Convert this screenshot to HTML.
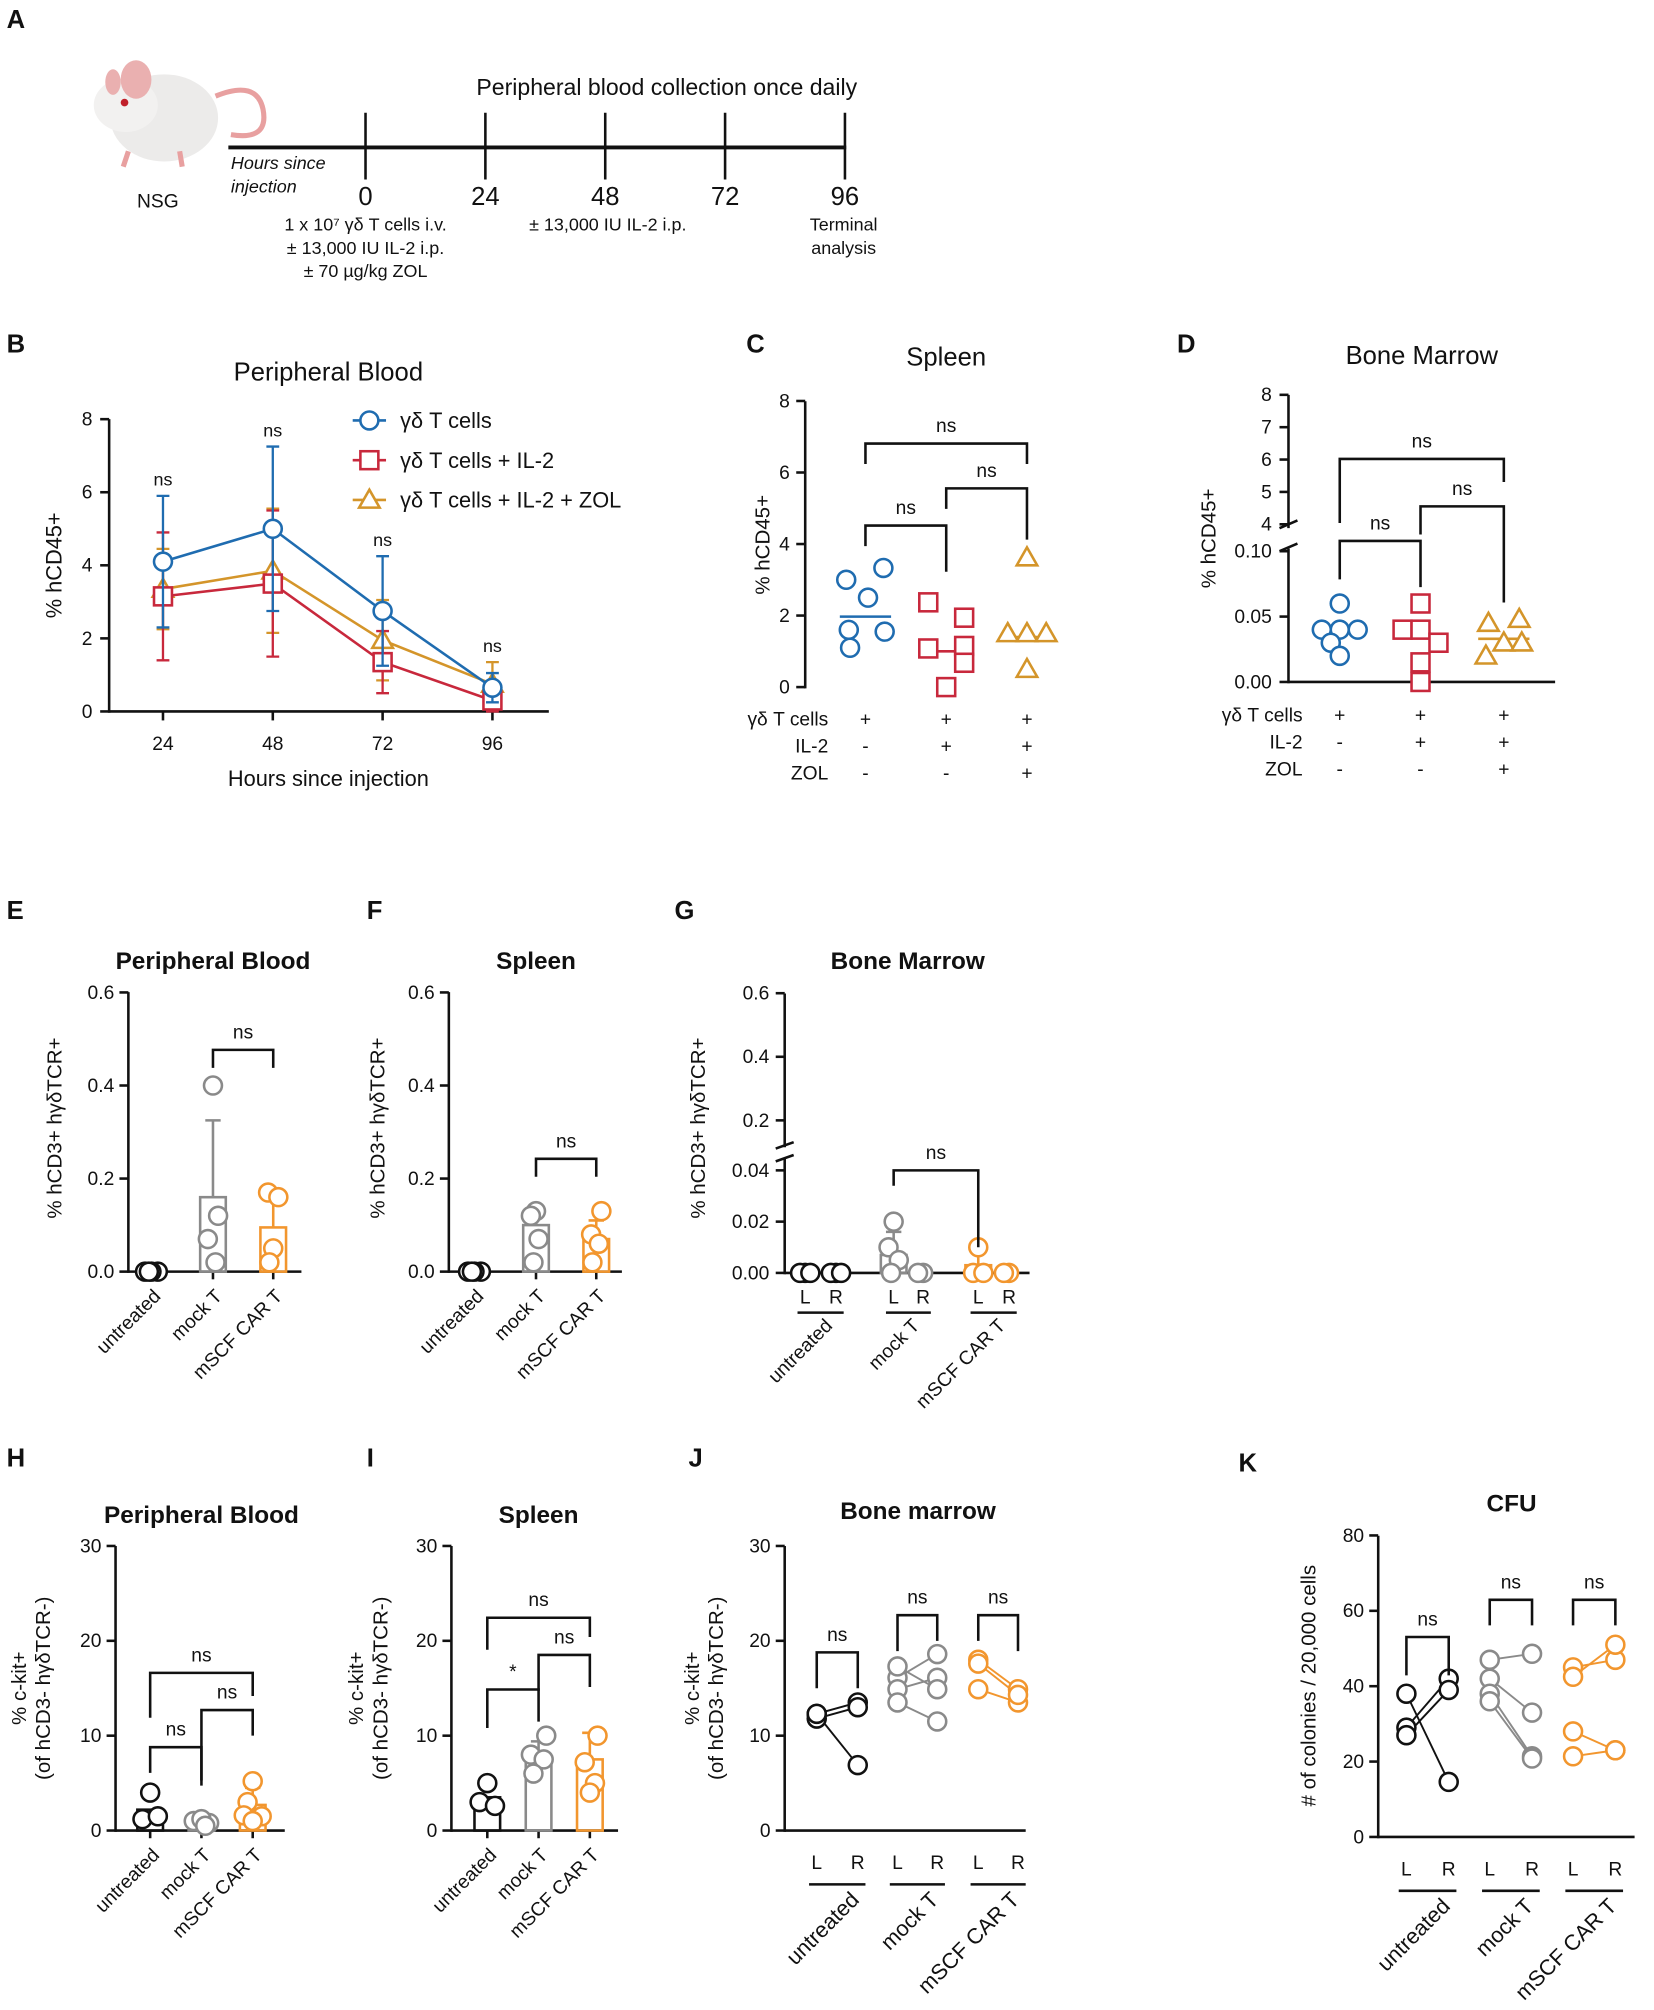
<!DOCTYPE html>
<html><head><meta charset="utf-8"><style>
html,body{margin:0;padding:0;background:#fff}
svg{display:block;font-family:"Liberation Sans",sans-serif}
</style></head><body>
<svg id="fig" xmlns="http://www.w3.org/2000/svg" width="1654" height="2010" viewBox="0 0 1290 1568">
<g id="mouse">
<path d="M168,75 Q200,62 205,85 Q210,110 180,105" fill="none" stroke="#e8a0a0" stroke-width="4"/>
<ellipse cx="128" cy="92" rx="42" ry="34" fill="#ecebea"/>
<ellipse cx="98" cy="82" rx="25" ry="21" fill="#f2f1f0"/>
<ellipse cx="106" cy="62" rx="12" ry="15" fill="#eab0b0"/>
<ellipse cx="88" cy="64" rx="6" ry="10" fill="#eab0b0"/>
<circle cx="97" cy="80" r="3" fill="#c0202a"/>
<path d="M100,118 l-4,12 M140,118 l2,12" stroke="#e8a0a0" stroke-width="4"/>
</g>
</svg>
<script>
const NS='http://www.w3.org/2000/svg';
const svg=document.getElementById('fig');
function mk(tag,attrs,name,parent){const el=document.createElementNS(NS,tag);for(const k in attrs)el.setAttribute(k,attrs[k]);


(parent||svg).appendChild(el);return el;}
function T(x,y,s,name,o){o=o||{};const a={x:x,y:y,'font-size':o.fs||15,'text-anchor':o.a||'middle',fill:o.fill||'#111'};
if(o.w)a['font-weight']=o.w;if(o.st)a['font-style']=o.st;if(o.rot!=null)a.transform='rotate('+o.rot+' '+x+' '+y+')';
const t=mk('text',a,name);t.textContent=s;return t;}
function L(x1,y1,x2,y2,name,c,w){return mk('line',{x1:x1,y1:y1,x2:x2,y2:y2,stroke:c||'#111','stroke-width':w||2},name);}
function P(d,name,c,w,f){return mk('path',{d:d,stroke:c||'#111','stroke-width':w||2,fill:f||'none'},name);}
function marker(shape,x,y,c,r,name){r=r||7;
 if(shape==='o')return mk('circle',{cx:x,cy:y,r:r,fill:'#fff',stroke:c,'stroke-width':2},name);
 if(shape==='s')return mk('rect',{x:x-r,y:y-r,width:2*r,height:2*r,fill:'#fff',stroke:c,'stroke-width':2},name);
 return mk('path',{d:'M'+x+','+(y-r-1)+' L'+(x+r+1)+','+(y+r-1)+' L'+(x-r-1)+','+(y+r-1)+'Z',fill:'#fff',stroke:c,'stroke-width':2},name);}
function bracket(x1,x2,y,lbl,name,leg1,leg2){P('M'+x1+','+(y+(leg1||22))+' V'+y+' H'+x2+' V'+(y+(leg2||22)),name);T((x1+x2)/2,y-9,lbl,name+'-label',{fs:15});}
function letter(x,y,s){T(x,y,s,'panel-label-'+s.toLowerCase(),{fs:20,w:'bold',a:'start'});}

// ---------- Panel A ----------
const aHours=['0','24','48','72','96'];
letter(5,22,'A');
L(178,115,660,115,'timeline-axis','#111',3);
aHours.forEach((h,i)=>{const x=285+i*93.5;L(x,88,x,140,'timeline-tick-'+h);T(x,160,h,'timeline-label-'+h,{fs:20});});
T(520,74,'Peripheral blood collection once daily','timeline-title',{fs:18});
T(180,132,'Hours since','timeline-axis-title-1',{fs:14,st:'italic',a:'start'});
T(180,150,'injection','timeline-axis-title-2',{fs:14,st:'italic',a:'start'});
T(123,162,'NSG','mouse-strain-label',{fs:15});
T(285,180,'1 x 10⁷ γδ T cells i.v.','day0-treatment-1',{fs:14});
T(285,198,'± 13,000 IU IL-2 i.p.','day0-treatment-2',{fs:14});
T(285,216,'± 70 µg/kg ZOL','day0-treatment-3',{fs:14});
T(474,180,'± 13,000 IU IL-2 i.p.','day2-treatment',{fs:14});
T(658,180,'Terminal','terminal-analysis-1',{fs:14});
T(658,198,'analysis','terminal-analysis-2',{fs:14});

// ---------- Panel B ----------
const bHours=[24,48,72,96];
const bTicks=[0,2,4,6,8];
const bBlue=[4.1,5.0,2.75,0.65], bBlueSD=[1.8,2.25,1.5,0.4];
const bRed=[3.15,3.5,1.35,0.3], bRedSD=[1.75,2.0,0.85,0.3];
const bGold=[3.35,3.85,1.95,0.75], bGoldSD=[1.1,1.7,1.1,0.6];
const bSig=['ns','ns','ns','ns'];
const BLUE='#1f6cb0',RED='#c8283c',GOLD='#d4952a';
letter(5,275,'B');
const bx=h=>127+(h-24)*(257/72), by=v=>555-v*28.5;
L(85,555,428,555,'b-x-axis');L(85,327,85,556,'b-y-axis');
bTicks.forEach(t=>{L(78,by(t),85,by(t),'b-y-tick');T(72,by(t)+5,String(t),'b-y-tick-label',{fs:15,a:'end'});});
bHours.forEach((h,i)=>{L(bx(h),555,bx(h),562,'b-x-tick');T(bx(h),585,String(h),'b-x-tick-label',{fs:15});});
[[bGold,bGoldSD,GOLD,'^','gold'],[bRed,bRedSD,RED,'s','red'],[bBlue,bBlueSD,BLUE,'o','blue']].forEach(([v,sd,c,sh,n])=>{
 P(v.map((y,i)=>(i?'L':'M')+bx(bHours[i])+','+by(y)).join(' '),'b-line-'+n,c,2);
 v.forEach((y,i)=>{const x=bx(bHours[i]);P('M'+x+','+by(y-sd[i])+'V'+by(y+sd[i])+'M'+(x-5)+','+by(y+sd[i])+'h10M'+(x-5)+','+by(y-sd[i])+'h10','b-errorbar-'+n,c,1.8);});
 v.forEach((y,i)=>marker(sh,bx(bHours[i]),by(y),c,7,'b-point-'+n));
});
bHours.forEach((h,i)=>{const top=Math.max(bBlue[i]+bBlueSD[i],bRed[i]+bRedSD[i],bGold[i]+bGoldSD[i]);T(bx(h),by(top)-8,bSig[i],'b-sig-label',{fs:14});});
T(256,297,'Peripheral Blood','b-title',{fs:20});
T(256,613,'Hours since injection','b-x-title',{fs:17});
T(48,441,'% hCD45+','b-y-title',{fs:17,rot:-90});
[['γδ T cells',BLUE,'o'],['γδ T cells + IL-2',RED,'s'],['γδ T cells + IL-2 + ZOL',GOLD,'^']].forEach(([s,c,sh],i)=>{const y=328+i*31;
 L(275,y,301,y,'b-legend-line',c,2);marker(sh,288,y,c,7,'b-legend-marker');T(312,y+6,s,'b-legend-entry',{fs:17,a:'start'});});

// ---------- Panel C ----------
const cTicks=[0,2,4,6,8];
const cBlue=[3.33,3.0,2.5,1.6,1.1,1.55], cBlueX=[14,-15,2,-13,-12,15];
const cRed=[2.37,1.94,1.08,1.15,0.0,0.68], cRedX=[-14,14,-14,14,0,14];
const cGold=[3.62,1.5,1.5,1.5,0.5], cGoldX=[0,-15,0,15,0];
const cMeans=[1.97,1.0,1.4];
letter(582,275,'C');
const cy=v=>536-v*27.9, cgx=[675,738,801];
L(628,313,628,537,'c-y-axis');
cTicks.forEach(t=>{L(621,cy(t),628,cy(t),'c-y-tick');T(616,cy(t)+5,String(t),'c-y-tick-label',{fs:15,a:'end'});});
[[cBlue,cBlueX,BLUE,'o'],[cRed,cRedX,RED,'s'],[cGold,cGoldX,GOLD,'^']].forEach(([v,dx,c,sh],g)=>{
 L(cgx[g]-20,cy(cMeans[g]),cgx[g]+20,cy(cMeans[g]),'c-mean-line',c,2);
 v.forEach((y,i)=>marker(sh,cgx[g]+dx[i],cy(y),c,7,'c-point'));});
bracket(675,738,410,'ns','c-bracket-1-2',16,36);bracket(738,801,381,'ns','c-bracket-2-3',16,40);bracket(675,801,346,'ns','c-bracket-1-3',16,16);
T(738,285,'Spleen','c-title',{fs:20});
T(600,425,'% hCD45+','c-y-title',{fs:16,rot:-90});
const rowsC=[['γδ T cells',['+','+','+']],['IL-2',['-','+','+']],['ZOL',['-','-','+']]];
rowsC.forEach(([n,s],r)=>{T(646,566+r*21,n,'c-row-label',{fs:15,a:'end'});s.forEach((c,g)=>T(cgx[g],566+r*21,c,'c-row-sign',{fs:15}));});

// ---------- Panel D ----------
const dTicksLow=[0,0.05,0.10], dTicksHigh=[4,5,6,7,8];
const dBlue=[0.06,0.04,0.04,0.04,0.03,0.02], dBlueX=[0,-14,0,14,-7,0];
const dRed=[0.06,0.04,0.04,0.03,0.015,0.0], dRedX=[0,-14,0,14,0,0];
const dGold=[0.048,0.045,0.03,0.03,0.02], dGoldX=[12,-12,0,14,-14];
const dMeans=[0.038,0.035,0.033];
letter(918,275,'D');
const dy=v=>v<=0.1?532-v*1020:409-(v-4)*25.25, dgx=[1045,1108,1173];
L(1005,308,1005,412,'d-y-axis-upper');L(1005,428,1005,533,'d-y-axis-lower');L(1005,532,1213,532,'d-x-axis');
L(998,412,1012,406,'d-axis-break');L(998,430,1012,424,'d-axis-break');
dTicksHigh.forEach(t=>{L(998,dy(t),1005,dy(t),'d-y-tick');T(992,dy(t)+5,String(t),'d-y-tick-label',{fs:15,a:'end'});});
dTicksLow.forEach(t=>{L(998,dy(t),1005,dy(t),'d-y-tick');T(992,dy(t)+5,t.toFixed(2),'d-y-tick-label',{fs:15,a:'end'});});
[[dBlue,dBlueX,BLUE,'o'],[dRed,dRedX,RED,'s'],[dGold,dGoldX,GOLD,'^']].forEach(([v,dx,c,sh],g)=>{
 L(dgx[g]-20,dy(dMeans[g]),dgx[g]+20,dy(dMeans[g]),'d-mean-line',c,2);
 v.forEach((y,i)=>marker(sh,dgx[g]+dx[i],dy(y),c,7,'d-point'));});
bracket(1045,1108,422,'ns','d-bracket-1-2',30,36);bracket(1108,1173,395,'ns','d-bracket-2-3',22,75);bracket(1045,1173,358,'ns','d-bracket-1-3',50,18);
T(1109,284,'Bone Marrow','d-title',{fs:20});
T(948,420,'% hCD45+','d-y-title',{fs:16,rot:-90});
rowsC.forEach(([n,s],r)=>{T(1016,563+r*21,n,'d-row-label',{fs:15,a:'end'});s.forEach((c,g)=>T(dgx[g],563+r*21,c,'d-row-sign',{fs:15}));});

// ---------- shared dot/bar panel ----------
const BLK='#111',GRY='#8a8a8a',ORG='#f2962e';
const grpNames=['untreated','mock T','mSCF CAR T'];
const grpCols=[BLK,GRY,ORG];
function barPanel(o){
 const y=o.y;
 L(o.ax,o.yTop,o.ax,o.y0+1,o.id+'-y-axis');L(o.ax,o.y0,o.xEnd,o.y0,o.id+'-x-axis');
 o.ticks.forEach(t=>{L(o.ax-7,y(t),o.ax,y(t),o.id+'-y-tick');T(o.ax-11,y(t)+5,o.fmt(t),o.id+'-y-tick-label',{fs:15,a:'end'});});
 o.gx.forEach((x,g)=>{L(x,o.y0,x,o.y0+6,o.id+'-x-tick');T(x+8,o.y0+20,grpNames[g],o.id+'-x-label',{fs:15,a:'end',rot:-45});
  const c=grpCols[g];
  if(o.bars[g]>0){mk('rect',{x:x-10,y:y(o.bars[g]),width:20,height:o.y0-y(o.bars[g]),fill:'none',stroke:c,'stroke-width':2},o.id+'-bar');
   if(o.sd[g]>0)P('M'+x+','+y(o.bars[g])+'V'+y(o.bars[g]+o.sd[g])+'M'+(x-6)+','+y(o.bars[g]+o.sd[g])+'h12',o.id+'-errorbar',c,2);}
  o.pts[g].forEach((v,i)=>marker('o',x+o.dx[g][i],y(v),c,7,o.id+'-point'));});
 T(o.tx,o.ty,o.title,o.id+'-title',{fs:19,w:'bold'});
 o.ytitle.forEach((s,i)=>T(o.ytx+i*19,o.yty,s,o.id+'-y-title',{fs:16,rot:-90}));
}

// ---------- Panel E ----------
const eTicks=[0,0.2,0.4,0.6];
const eBars=[0,0.16,0.095], eSD=[0,0.165,0.075];
const eUnt=[0,0,0,0], eMock=[0.4,0.12,0.07,0.02], eCar=[0.17,0.16,0.05,0.02];
letter(5,717,'E');
barPanel({id:'e',ax:100,y0:992,yTop:774,xEnd:235,y:v=>992-v*363,ticks:eTicks,fmt:t=>t.toFixed(1),gx:[118,166,213],bars:eBars,sd:eSD,
 pts:[eUnt,eMock,eCar],dx:[[-5,5,0,-2],[0,4,-4,2],[-4,4,0,-3]],title:'Peripheral Blood',tx:166,ty:756,ytitle:['% hCD3+ hγδTCR+'],ytx:48,yty:880});
bracket(166,213,819,'ns','e-bracket',14,14);

// ---------- Panel F ----------
const fTicks=[0,0.2,0.4,0.6];
const fBars=[0,0.1,0.07], fSD=[0,0.03,0.04];
const fUnt=[0,0,0,0], fMock=[0.13,0.12,0.07,0.02], fCar=[0.13,0.08,0.06,0.02];
letter(286,717,'F');
barPanel({id:'f',ax:350,y0:992,yTop:774,xEnd:485,y:v=>992-v*363,ticks:fTicks,fmt:t=>t.toFixed(1),gx:[370,418,465],bars:fBars,sd:fSD,
 pts:[fUnt,fMock,fCar],dx:[[-5,5,0,-2],[0,-4,2,-2],[4,-4,2,-3]],title:'Spleen',tx:418,ty:756,ytitle:['% hCD3+ hγδTCR+'],ytx:300,yty:880});
bracket(418,465,904,'ns','f-bracket',14,14);

// ---------- Panel G ----------
const gTicksLow=[0,0.02,0.04], gTicksHigh=[0.2,0.4,0.6];
const gCats=['untreated L','untreated R','mock T L','mock T R','mSCF CAR T L','mSCF CAR T R'];
const gPts=[[0,0,0],[0,0,0],[0.02,0.01,0.005,0],[0,0],[0.01,0,0],[0,0]];
const gBars=[0,0,0.007,0,0.003,0], gSD=[0,0,0.009,0,0.005,0];
letter(526,717,'G');
const gy=v=>v<=0.045?993-v*2000:874-(v-0.2)*248, ggx=[628,652,697,720,763,787], gcol=[BLK,BLK,GRY,GRY,ORG,ORG];
L(612,775,612,895,'g-y-axis-upper');L(612,903,612,994,'g-y-axis-lower');L(612,993,803,993,'g-x-axis');
L(605,896,619,891,'g-axis-break');L(605,906,619,901,'g-axis-break');
gTicksHigh.forEach(t=>{L(605,gy(t),612,gy(t),'g-y-tick');T(600,gy(t)+5,t.toFixed(1),'g-y-tick-label',{fs:15,a:'end'});});
gTicksLow.forEach(t=>{L(605,gy(t),612,gy(t),'g-y-tick');T(600,gy(t)+5,t.toFixed(2),'g-y-tick-label',{fs:15,a:'end'});});
gCats.forEach((n,i)=>{const x=ggx[i],c=gcol[i];
 if(gBars[i]>0){mk('rect',{x:x-10,y:gy(gBars[i]),width:20,height:993-gy(gBars[i]),fill:'none',stroke:c,'stroke-width':2},'g-bar');
  P('M'+x+','+gy(gBars[i])+'V'+gy(gBars[i]+gSD[i])+'M'+(x-6)+','+gy(gBars[i]+gSD[i])+'h12','g-errorbar',c,2);}
 gPts[i].forEach((v,j)=>marker('o',x+[0,-4,4,-2][j],gy(v),c,7,'g-point'));
 T(x,1017,i%2?'R':'L','g-side-label',{fs:15});});
[0,1,2].forEach(g=>{L(ggx[2*g]-6,1024,ggx[2*g+1]+6,1024,'g-group-line');T(ggx[2*g+1]-2,1035,grpNames[g],'g-x-label',{fs:15,a:'end',rot:-45});});
bracket(697,763,913,'ns','g-bracket',12,60);
T(708,756,'Bone Marrow','g-title',{fs:19,w:'bold'});
T(550,880,'% hCD3+ hγδTCR+','g-y-title',{fs:16,rot:-90});

// ---------- Panel H ----------
const hTicks=[0,10,20,30];
const hBars=[2.2,0.9,2.7], hSD=[0,0,1.8];
const hUnt=[4,1.2,1.5], hMock=[1,0.8,1.2,0.5], hCar=[5.2,3,1.6,1.5,1];
letter(5,1144,'H');
barPanel({id:'h',ax:90,y0:1428,yTop:1206,xEnd:222,y:v=>1428-v*7.4,ticks:hTicks,fmt:t=>String(t),gx:[117,157,197],bars:hBars,sd:hSD,
 pts:[hUnt,hMock,hCar],dx:[[0,-6,6],[-6,6,0,3],[0,-4,-7,7,0]],title:'Peripheral Blood',tx:157,ty:1188,ytitle:['% c-kit+','(of hCD3- hγδTCR-)'],ytx:20,yty:1317});
bracket(117,157,1363,'ns','h-bracket-1-2',20,30);bracket(157,197,1334,'ns','h-bracket-2-3',55,20);bracket(117,197,1305,'ns','h-bracket-1-3',35,18);

// ---------- Panel I ----------
const iTicks=[0,10,20,30];
const iBars=[3.5,7.8,7.5], iSD=[0,1.6,2.8];
const iUnt=[5,3,2.6], iMock=[10,8,7.5,6], iCar=[10,7.2,5,4];
letter(286,1144,'I');
barPanel({id:'i',ax:352,y0:1428,yTop:1206,xEnd:482,y:v=>1428-v*7.4,ticks:iTicks,fmt:t=>String(t),gx:[380,420,460],bars:iBars,sd:iSD,
 pts:[iUnt,iMock,iCar],dx:[[0,-6,6],[6,-6,4,-4],[6,-4,4,0]],title:'Spleen',tx:420,ty:1188,ytitle:['% c-kit+','(of hCD3- hγδTCR-)'],ytx:283,yty:1317});
bracket(380,420,1318,'*','i-bracket-1-2',30,25);bracket(420,460,1291,'ns','i-bracket-2-3',28,25);bracket(380,460,1262,'ns','i-bracket-1-3',25,15);

// ---------- paired panels ----------
function pairedPanel(o){
 L(o.ax,o.yTop,o.ax,o.y0+1,o.id+'-y-axis');L(o.ax,o.y0,o.xEnd,o.y0,o.id+'-x-axis');
 o.ticks.forEach(t=>{L(o.ax-7,o.y(t),o.ax,o.y(t),o.id+'-y-tick');T(o.ax-11,o.y(t)+5,String(t),o.id+'-y-tick-label',{fs:15,a:'end'});});
 o.L.forEach((lv,g)=>{const xl=o.gx[g][0],xr=o.gx[g][1],c=grpCols[g];
  lv.forEach((v,i)=>{L(xl,o.y(v),xr,o.y(o.R[g][i]),o.id+'-pair-line',c,1.5);});
  lv.forEach(v=>marker('o',xl,o.y(v),c,7,o.id+'-point-left'));
  o.R[g].forEach(v=>marker('o',xr,o.y(v),c,7,o.id+'-point-right'));
  T(xl,o.y0+30,'L',o.id+'-side-label',{fs:15});T(xr,o.y0+30,'R',o.id+'-side-label',{fs:15});
  L(xl-6,o.y0+42,xr+6,o.y0+42,o.id+'-group-line');
  T(xr+2,o.y0+55,grpNames[g],o.id+'-x-label',{fs:17,a:'end',rot:-45});
  bracket(xl,xr,o.bk[g],'ns',o.id+'-bracket',o.legs[g][0],o.legs[g][1]);});
 T(o.tx,o.ty,o.title,o.id+'-title',{fs:19,w:'bold'});
 o.ytitle.forEach((s,i)=>T(o.ytx+i*19,o.yty,s,o.id+'-y-title',{fs:16,rot:-90}));
}

// ---------- Panel J ----------
const jTicks=[0,10,20,30];
const jUntL=[12.3,11.8,12.3], jUntR=[13.5,13.0,6.9];
const jMockL=[16.1,14.9,17.3,13.5], jMockR=[18.6,16.1,14.9,11.5];
const jCarL=[18.0,14.9,17.6], jCarR=[14.9,13.5,14.3];
letter(537,1144,'J');
pairedPanel({id:'j',ax:612,y0:1428,yTop:1206,xEnd:800,y:v=>1428-v*7.4,ticks:jTicks,gx:[[637,669],[700,731],[763,794]],
 L:[jUntL,jMockL,jCarL],R:[jUntR,jMockR,jCarR],bk:[1289,1260,1260],legs:[[28,28],[28,20],[20,28]],
 title:'Bone marrow',tx:716,ty:1185,ytitle:['% c-kit+','(of hCD3- hγδTCR-)'],ytx:545,yty:1317});

// ---------- Panel K ----------
const kTicks=[0,20,40,60,80];
const kUntL=[38,29,27], kUntR=[14.6,42,39];
const kMockL=[47,42,38,36], kMockR=[48.6,33,21.4,20.8];
const kCarL=[45,42.5,28,21.4], kCarR=[47,51,23,23];
letter(966,1148,'K');
pairedPanel({id:'k',ax:1075,y0:1433,yTop:1198,xEnd:1275,y:v=>1433-v*2.94,ticks:kTicks,gx:[[1097,1130],[1162,1195],[1227,1260]],
 L:[kUntL,kMockL,kCarL],R:[kUntR,kMockR,kCarR],bk:[1277,1248,1248],legs:[[30,30],[20,20],[20,20]],
 title:'CFU',tx:1179,ty:1179,ytitle:['# of colonies / 20,000 cells'],ytx:1026,yty:1315});
</script>
</body></html>
